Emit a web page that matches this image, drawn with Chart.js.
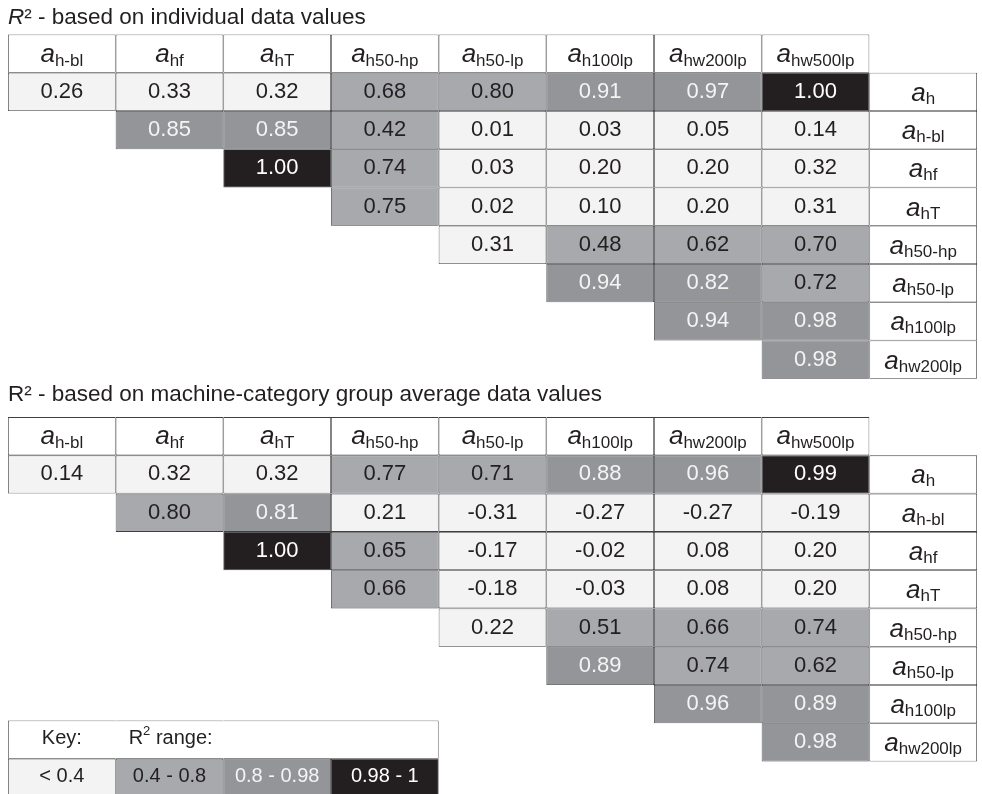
<!DOCTYPE html>
<html>
<head>
<meta charset="utf-8">
<title>R² matrices</title>
<script src="https://cdn.jsdelivr.net/npm/chart.js@4.4.0/dist/chart.umd.min.js"></script>
<style>
    html, body { margin: 0; padding: 0; background: #fff; }
    #wrap { position: relative; width: 982px; height: 794px; }
</style>
</head>
<body>
<div id="wrap"><canvas id="chart-r2"></canvas></div>
<script>
// Variables (subíndices de a)
const colNames = ['h-bl', 'hf', 'hT', 'h50-hp', 'h50-lp', 'h100lp', 'hw200lp', 'hw500lp'];
const rowNames = ['h', 'h-bl', 'hf', 'hT', 'h50-hp', 'h50-lp', 'h100lp', 'hw200lp'];

// R² - triángulo superior, la fila i empieza en la columna i
const r2Individual = [
    [0.26, 0.33, 0.32, 0.68, 0.80, 0.91, 0.97, 1.00],
    [0.85, 0.85, 0.42, 0.01, 0.03, 0.05, 0.14],
    [1.00, 0.74, 0.03, 0.20, 0.20, 0.32],
    [0.75, 0.02, 0.10, 0.20, 0.31],
    [0.31, 0.48, 0.62, 0.70],
    [0.94, 0.82, 0.72],
    [0.94, 0.98],
    [0.98]
];

const r2Group = [
    [0.14, 0.32, 0.32, 0.77, 0.71, 0.88, 0.96, 0.99],
    [0.80, 0.81, 0.21, -0.31, -0.27, -0.27, -0.19],
    [1.00, 0.65, -0.17, -0.02, 0.08, 0.20],
    [0.66, -0.18, -0.03, 0.08, 0.20],
    [0.22, 0.51, 0.66, 0.74],
    [0.89, 0.74, 0.62],
    [0.96, 0.89],
    [0.98]
];

const keyLabels = ['< 0.4', '0.4 - 0.8', '0.8 - 0.98', '0.98 - 1'];

// Colores de la clave
const fills = ['#f3f3f3', '#a7a9ac', '#939598', '#231f20'];
const textColors = ['#231f20', '#231f20', '#f4f4f4', '#ffffff'];
const LINE = '#404040';
const FONT = '"Liberation Sans", Arial, Helvetica, sans-serif';

// Posición de cada bloque (en filas)
const TABLE_TOP = [0, 10];
const TITLE_Y = [-0.26, 9.57];
const KEY_TOP = 17.93;

function rango(v) {
    if (v < 0.4) return 0;
    if (v <= 0.8) return 1;
    if (v < 0.99) return 2;
    return 3;
}

function crearCeldas(valores, top) {
    const celdas = [];
    colNames.forEach((n, c) => {
        celdas.push({ x: c + 0.5, y: [top, top + 1], tipo: 'cab', nombre: n });
    });
    valores.forEach((fila, r) => {
        fila.forEach((v, k) => {
            const c = r + k;
            celdas.push({ x: c + 0.5, y: [top + 1 + r, top + 2 + r], tipo: 'valor', v: v });
        });
        celdas.push({ x: 8.5, y: [top + 1 + r, top + 2 + r], tipo: 'fila', nombre: rowNames[r] });
    });
    return celdas;
}

function crearClave() {
    const celdas = [];
    keyLabels.forEach((t, k) => {
        celdas.push({ x: k + 0.5, y: [KEY_TOP, KEY_TOP + 1], tipo: 'claveCab', k: k });
        celdas.push({ x: k + 0.5, y: [KEY_TOP + 1, KEY_TOP + 2], tipo: 'clave', k: k, texto: t });
    });
    return celdas;
}

function colorFondo(ctx) {
    const raw = ctx.raw;
    if (!raw) return '#ffffff';
    if (raw.tipo === 'valor') return fills[rango(raw.v)];
    if (raw.tipo === 'clave') return fills[raw.k];
    return '#ffffff';
}

function anchoBorde(ctx) {
    const raw = ctx.raw;
    const b = 0.8;
    if (raw && raw.tipo === 'claveCab') {
        return { top: b, bottom: b, left: raw.k === 0 ? b : 0, right: raw.k === 3 ? b : 0 };
    }
    return b;
}

// a + subíndice
function dibujarVariable(ctx, nombre, cx, baseY, bajada) {
    ctx.font = 'italic 26px ' + FONT;
    const wa = ctx.measureText('a').width;
    ctx.font = '17px ' + FONT;
    const ws = ctx.measureText(nombre).width;
    const x0 = cx - (wa + ws) / 2;
    ctx.fillStyle = '#231f20';
    ctx.textAlign = 'left';
    ctx.textBaseline = 'alphabetic';
    ctx.font = 'italic 26px ' + FONT;
    ctx.fillText('a', x0, baseY);
    ctx.font = '17px ' + FONT;
    ctx.fillText(nombre, x0 + wa, baseY + bajada);
}

const textoCeldas = {
    id: 'textoCeldas',
    afterDatasetsDraw(chart) {
        const ctx = chart.ctx;
        const xs = chart.scales.x;
        const ys = chart.scales.y;
        ctx.save();

        chart.data.datasets.forEach((ds, i) => {
            const meta = chart.getDatasetMeta(i);
            meta.data.forEach((el, j) => {
                const raw = ds.data[j];
                const p = el.getProps(['x', 'y', 'base'], true);
                const cy = (p.y + p.base) / 2;
                if (raw.tipo === 'valor') {
                    ctx.font = '22px ' + FONT;
                    ctx.fillStyle = textColors[rango(raw.v)];
                    ctx.textAlign = 'center';
                    ctx.textBaseline = 'alphabetic';
                    ctx.fillText(raw.v.toFixed(2), p.x, cy + 6);
                } else if (raw.tipo === 'cab') {
                    dibujarVariable(ctx, raw.nombre, p.x, cy + 8, 4);
                } else if (raw.tipo === 'fila') {
                    dibujarVariable(ctx, raw.nombre, p.x, cy + 9, 3);
                } else if (raw.tipo === 'clave') {
                    ctx.font = '20px ' + FONT;
                    ctx.fillStyle = textColors[raw.k];
                    ctx.textAlign = 'center';
                    ctx.textBaseline = 'alphabetic';
                    ctx.fillText(raw.texto, p.x, cy + 4);
                } else if (raw.tipo === 'claveCab' && raw.k === 0) {
                    ctx.font = '20px ' + FONT;
                    ctx.fillStyle = '#231f20';
                    ctx.textAlign = 'center';
                    ctx.textBaseline = 'alphabetic';
                    ctx.fillText('Key:', p.x, cy + 4);
                    let x = xs.getPixelForValue(1) + 13;
                    ctx.textAlign = 'left';
                    ctx.fillText('R', x, cy + 4);
                    x += ctx.measureText('R').width;
                    ctx.font = '13px ' + FONT;
                    ctx.fillText('2', x, cy - 5);
                    x += ctx.measureText('2').width;
                    ctx.font = '20px ' + FONT;
                    ctx.fillText(' range:', x, cy + 4);
                }
            });
        });

        // Títulos
        const x0 = xs.getPixelForValue(0);
        ctx.fillStyle = '#231f20';
        ctx.textAlign = 'left';
        ctx.textBaseline = 'alphabetic';
        let y = ys.getPixelForValue(TITLE_Y[0]);
        ctx.font = 'italic 22.5px ' + FONT;
        ctx.fillText('R', x0, y);
        const wr = ctx.measureText('R').width;
        ctx.font = '22.5px ' + FONT;
        ctx.fillText('² - based on individual data values', x0 + wr, y);
        y = ys.getPixelForValue(TITLE_Y[1]);
        ctx.fillText('R² - based on machine-category group average data values', x0, y);

        ctx.restore();
    }
};

document.addEventListener('DOMContentLoaded', function() {
    const ctx = document.getElementById('chart-r2');
    const comun = {
        backgroundColor: colorFondo,
        borderColor: LINE,
        borderWidth: anchoBorde,
        borderSkipped: false,
        inflateAmount: 0,
        barPercentage: 1,
        categoryPercentage: 1,
        grouped: false
    };

    new Chart(ctx, {
        type: 'bar',
        data: {
            datasets: [
                Object.assign({ label: 'R² individual', data: crearCeldas(r2Individual, TABLE_TOP[0]) }, comun),
                Object.assign({ label: 'R² group average', data: crearCeldas(r2Group, TABLE_TOP[1]) }, comun),
                Object.assign({ label: 'Key', data: crearClave() }, comun)
            ]
        },
        options: {
            responsive: true,
            maintainAspectRatio: false,
            animation: false,
            devicePixelRatio: 1,
            layout: { padding: { left: 8, right: 5, top: 0, bottom: 0 } },
            plugins: {
                legend: { display: false },
                tooltip: { enabled: false }
            },
            scales: {
                x: {
                    type: 'linear',
                    min: 0,
                    max: 9,
                    offset: false,
                    display: false,
                    ticks: { stepSize: 1 }
                },
                y: {
                    type: 'linear',
                    min: -0.9,
                    max: 19.85,
                    reverse: true,
                    display: false
                }
            }
        },
        plugins: [textoCeldas]
    });
});
</script>
</body>
</html>
